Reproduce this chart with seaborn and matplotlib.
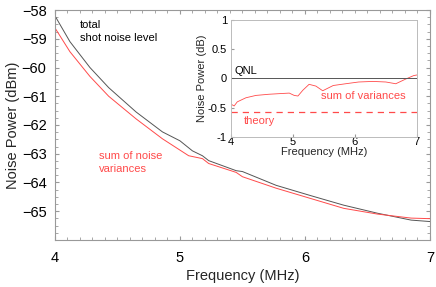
import pandas as pd
import matplotlib.pyplot as plt
import seaborn as sns
from matplotlib.ticker import MultipleLocator

# main panel: noise power vs frequency
freq_total = [4.00, 4.12, 4.28, 4.43, 4.65, 4.86, 5.00, 5.10, 5.18, 5.23, 5.45, 5.50,
              5.77, 6.04, 6.31, 6.58, 6.85, 7.00]
shot_noise = [-58.2, -59.1, -60.0, -60.7, -61.55, -62.24, -62.55, -62.9, -63.07, -63.24,
              -63.59, -63.62, -64.1, -64.45, -64.79, -65.07, -65.31, -65.36]

freq_sum = [4.00, 4.12, 4.28, 4.43, 4.65, 4.86, 5.07, 5.18, 5.23, 5.45, 5.50, 5.77,
            6.04, 6.31, 6.58, 6.85, 7.00]
noise_sum = [-58.62, -59.45, -60.31, -61.0, -61.79, -62.48, -63.07, -63.17, -63.34,
             -63.65, -63.8, -64.2, -64.55, -64.9, -65.1, -65.24, -65.26]

# inset: difference relative to QNL (dB)
freq_inset = [4.00, 4.05, 4.10, 4.24, 4.40, 4.61, 4.77, 4.94, 5.02, 5.08, 5.16, 5.26,
              5.37, 5.48, 5.65, 5.85, 6.06, 6.29, 6.50, 6.66, 6.82, 6.95, 7.00]
var_diff = [-0.44, -0.47, -0.4, -0.33, -0.29, -0.27, -0.26, -0.25, -0.29, -0.3, -0.2,
            -0.1, -0.13, -0.21, -0.12, -0.09, -0.06, -0.05, -0.06, -0.09, -0.01, 0.05, 0.06]
qnl_level = 0.0
theory_level = -0.58

sns.set_style('ticks')
plt.rcParams['font.family'] = ['Liberation Sans', 'DejaVu Sans']

red = '#ff4a4a'
grey = '#555555'

fig = plt.figure(figsize=(4.36, 2.87), dpi=100)
ax = fig.add_axes([0.126, 0.164, 0.86, 0.801])

df_main = pd.DataFrame({'f': freq_total, 'p': shot_noise})
df_sum = pd.DataFrame({'f': freq_sum, 'p': noise_sum})
sns.lineplot(data=df_main, x='f', y='p', color=grey, lw=0.7, ax=ax)
sns.lineplot(data=df_sum, x='f', y='p', color=red, lw=0.7, ax=ax)

ax.set_xlim(4, 7)
ax.set_ylim(-66, -58)
ax.set_xticks([4, 5, 6, 7])
ax.set_yticks([-65, -64, -63, -62, -61, -60, -59, -58])
ax.xaxis.set_minor_locator(MultipleLocator(0.1))
ax.yaxis.set_minor_locator(MultipleLocator(0.25))
ax.tick_params(which='both', direction='in', top=True, right=True, colors='#999999',
               labelcolor='black', labelsize=10.5)
ax.tick_params(axis='x', pad=8)
ax.tick_params(axis='y', pad=6)
ax.tick_params(which='major', length=3)
ax.tick_params(which='minor', length=2)
for s in ax.spines.values():
    s.set_color('#999999')
    s.set_linewidth(0.8)
ax.set_xlabel('Frequency (MHz)', fontsize=10.5, labelpad=3)
ax.set_ylabel('Noise Power (dBm)', fontsize=10.5, labelpad=1)

ax.text(4.2, -58.35, 'total\nshot noise level', fontsize=8, color='black',
        va='top', linespacing=1.4)
ax.text(4.35, -62.9, 'sum of noise\nvariances', fontsize=8, color=red,
        va='top', linespacing=1.4)

# inset
axi = fig.add_axes([0.530, 0.523, 0.426, 0.407])
df_var = pd.DataFrame({'f': freq_inset, 'd': var_diff})
sns.lineplot(data=df_var, x='f', y='d', color=red, lw=0.6, ax=axi)
axi.axhline(qnl_level, color=grey, lw=0.7)
axi.axhline(theory_level, color=red, lw=0.9, ls=(0, (5, 4)))
axi.set_xlim(4, 7)
axi.set_ylim(-1, 1)
axi.set_xticks([4, 5, 6, 7])
axi.set_yticks([-1, -0.5, 0, 0.5, 1])
axi.set_yticklabels(['-1', '-0.5', '0', '0.5', '1'])
axi.tick_params(direction='in', length=2, colors='#999999', labelcolor='black',
                labelsize=8)
axi.tick_params(axis='x', pad=0)
axi.tick_params(axis='y', pad=3)
for s in axi.spines.values():
    s.set_color('#bbbbbb')
    s.set_linewidth(0.7)
axi.set_xlabel('Frequency (MHz)', fontsize=8, labelpad=0)
axi.set_ylabel('Noise Power (dB)', fontsize=8, labelpad=1)
axi.text(4.05, 0.04, 'QNL', fontsize=8, color='black', va='bottom')
axi.text(5.45, -0.3, 'sum of variances', fontsize=8, color=red, va='center')
axi.text(4.2, -0.72, 'theory', fontsize=8, color=red, va='center')

fig.savefig('out.png', dpi=100)
